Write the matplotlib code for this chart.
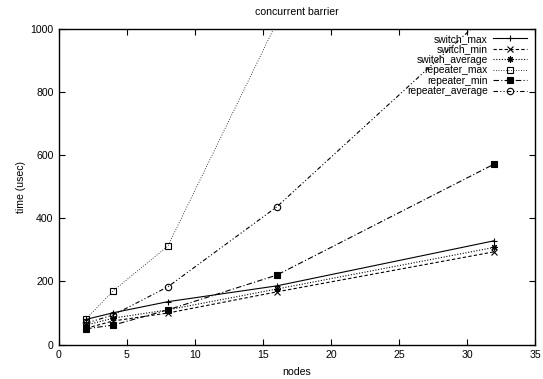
import matplotlib
matplotlib.use("Agg")
import matplotlib.pyplot as plt

plt.rcParams['font.family'] = ['Liberation Sans', 'DejaVu Sans']

nodes = [2, 4, 8, 16, 32]
switch_max = [80, 101, 136, 186, 329]
switch_min = [52, 75, 100, 167, 294]
switch_average = [62, 84, 110, 176, 308]
repeater_max = [82, 171, 312, 1020, 2400]
repeater_min = [50, 62, 110, 220, 572]
repeater_average = [68, 94, 183, 436, 1067]

W, H = 543, 379
fig = plt.figure(figsize=(W / 100, H / 100), dpi=100)
L, R, T, B = 59, 535, 29, 344.6
ax = fig.add_axes([L / W, (H - B) / H, (R - L) / W, (B - T) / H])

fs = 7.6
lw = 0.8
ms = 4.6
series = [
    ("switch_max", switch_max, dict(ls='-', marker='+', mfc='black')),
    ("switch_min", switch_min, dict(ls=(0, (3, 2)), marker='x', mfc='black')),
    ("switch_average", switch_average, dict(ls=(0, (1, 1.5)), marker=(8, 2, 0), mfc='black')),
    ("repeater_max", repeater_max, dict(ls=(0, (1, 2)), marker='s', mfc='none', lw=0.6)),
    ("repeater_min", repeater_min, dict(ls=(0, (5, 2, 1, 2)), marker='s', mfc='black')),
    ("repeater_average", repeater_average, dict(ls=(0, (4, 2, 1, 2, 1, 2)), marker='o', mfc='none')),
]
for name, vals, st in series:
    kw = dict(color='black', lw=lw, ms=ms, mew=0.8, mec='black')
    kw.update(st)
    ax.plot(nodes, vals, label=name, **kw)

ax.set_xlim(0, 35)
ax.set_ylim(0, 1000)
ax.set_xticks(range(0, 36, 5))
ax.set_yticks(range(0, 1001, 200))
ax.tick_params(direction='in', length=4, width=0.8, top=True, right=True,
               labelsize=fs, pad=4)
for s in ax.spines.values():
    s.set_linewidth(1.0)

ax.set_title("concurrent barrier", fontsize=fs, pad=10)
ax.set_xlabel("nodes", fontsize=fs, labelpad=5)
ax.set_ylabel("time (usec)", fontsize=fs, labelpad=3)

leg = ax.legend(loc='upper right', bbox_to_anchor=(0.983, 0.985), frameon=False,
                markerfirst=False, fontsize=7.4, handlelength=3.3, handletextpad=0.5,
                labelspacing=0.05, borderpad=0, borderaxespad=0)

fig.savefig("out.png", dpi=100)
